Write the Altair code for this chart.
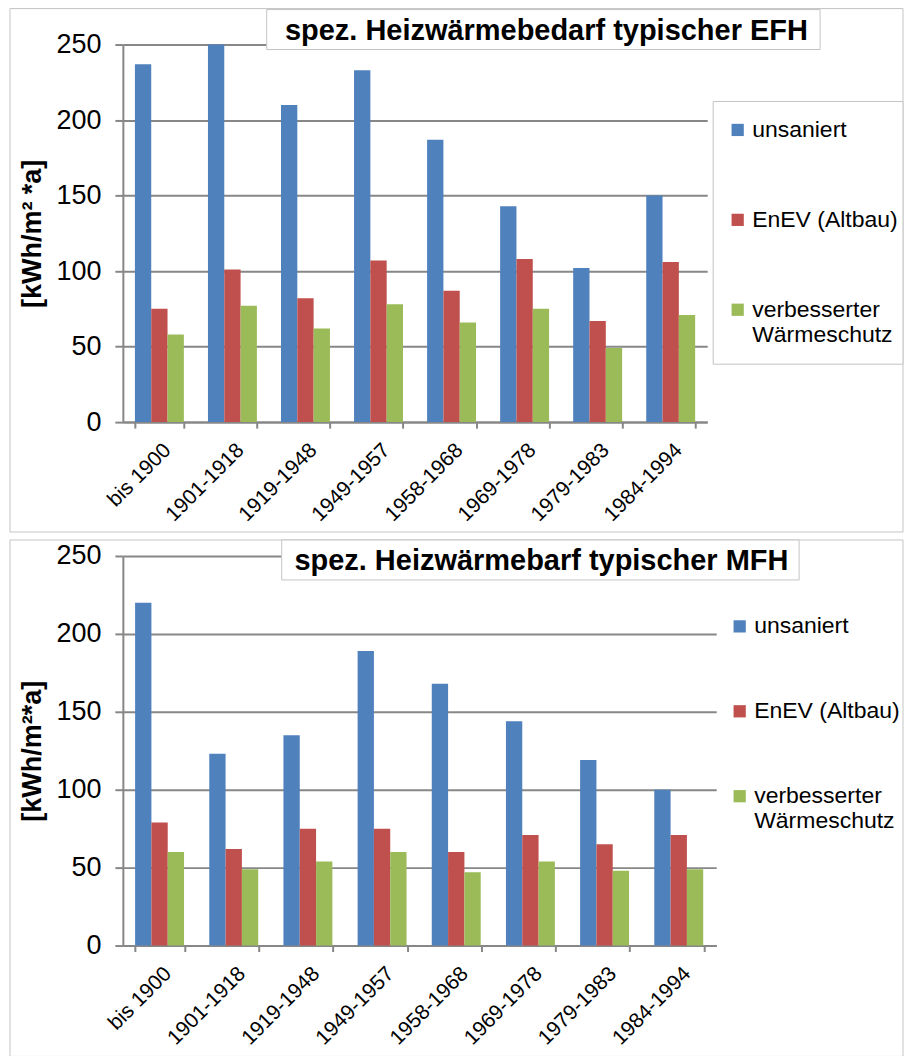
import altair as alt
import pandas as pd

CATEGORIES = ["bis 1900", "1901-1918", "1919-1948", "1949-1957",
              "1958-1968", "1969-1978", "1979-1983", "1984-1994"]
SERIES = ["unsaniert", "EnEV (Altbau)", "verbesserter Wärmeschutz"]
COLORS = ["#4F81BD", "#C0504D", "#9BBB59"]

EFH_UNSANIERT = [237, 250, 210, 233, 187, 143, 102, 150]
EFH_ENEV = [75, 101, 82, 107, 87, 108, 67, 106]
EFH_VERBESSERT = [58, 77, 62, 78, 66, 75, 49, 71]

MFH_UNSANIERT = [220, 123, 135, 189, 168, 144, 119, 100]
MFH_ENEV = [79, 62, 75, 75, 60, 71, 65, 71]
MFH_VERBESSERT = [60, 49, 54, 60, 47, 54, 48, 49]

Y_TICKS = [0, 50, 100, 150, 200, 250]
TITLE_EFH = "spez. Heizwärmebedarf typischer EFH"
TITLE_MFH = "spez. Heizwärmebarf typischer MFH"
YTITLE_EFH = "[kWh/m² *a]"
YTITLE_MFH = "[kWh/m²*a]"

FONT = "Liberation Sans"
GRID = "#878787"
BORDER = "#C4C4C4"


def long_df(series_values):
    rows = []
    for s, vals in zip(SERIES, series_values):
        for c, v in zip(CATEGORIES, vals):
            rows.append({"Baujahr": c, "Serie": s, "Wert": v})
    return pd.DataFrame(rows)


def one():
    return pd.DataFrame({"k": [0]})


def panel(df, title, ytitle, width, height, border, tbox, ttext, lbox, legend_xy, row_pad):
    bars = alt.Chart(df).mark_bar().encode(
        x=alt.X("Baujahr:N", sort=CATEGORIES,
                scale=alt.Scale(paddingInner=0.33, paddingOuter=0.165),
                axis=alt.Axis(title=None, labelAngle=-45, labelFontSize=21, labelFont=FONT,
                              labelColor="#000000", labelPadding=11, tickBand="extent",
                              ticks=True, tickSize=6, tickColor=GRID, tickWidth=2,
                              domainColor=GRID, domainWidth=2, grid=False)),
        xOffset=alt.XOffset("Serie:N", sort=SERIES,
                            scale=alt.Scale(paddingInner=0, paddingOuter=0)),
        y=alt.Y("Wert:Q", scale=alt.Scale(domain=[0, 250], nice=False),
                axis=alt.Axis(values=Y_TICKS, title=ytitle, grid=True, gridColor=GRID,
                              gridWidth=2, labelFontSize=27, labelFont=FONT,
                              labelColor="#000000", labelPadding=14, tickSize=8,
                              tickColor=GRID, tickWidth=2, domainColor=GRID,
                              domainWidth=2, titleFont=FONT, titleFontSize=27,
                              titleFontWeight="bold", titleColor="#000000",
                              titlePadding=9)),
        color=alt.Color("Serie:N", sort=SERIES,
                        scale=alt.Scale(domain=SERIES, range=COLORS),
                        legend=alt.Legend(title=None, orient="none",
                                          legendX=legend_xy[0], legendY=legend_xy[1],
                                          symbolType="square", symbolSize=150,
                                          symbolStrokeWidth=0, labelFont=FONT,
                                          labelFontSize=23, labelColor="#000000",
                                          labelOffset=3, rowPadding=row_pad,
                                          labelLimit=400,
                                          padding=0,
                                          labelExpr="datum.label == 'verbesserter Wärmeschutz' ? ['verbesserter', 'Wärmeschutz'] : datum.label")),
    )
    frame = alt.Chart(one()).mark_rect(fillOpacity=0, stroke=BORDER, strokeWidth=1).encode(
        x=alt.value(border[0]), x2=alt.value(border[1]),
        y=alt.value(border[2]), y2=alt.value(border[3]))
    layers = [frame, bars]
    if lbox is not None:
        layers.append(alt.Chart(one()).mark_rect(fill="white", stroke=BORDER, strokeWidth=1).encode(
            x=alt.value(lbox[0]), x2=alt.value(lbox[1]),
            y=alt.value(lbox[2]), y2=alt.value(lbox[3])))
    layers.append(alt.Chart(one()).mark_rect(fill="white", stroke=BORDER, strokeWidth=1).encode(
        x=alt.value(tbox[0]), x2=alt.value(tbox[1]),
        y=alt.value(tbox[2]), y2=alt.value(tbox[3])))
    layers.append(alt.Chart(one()).mark_text(font=FONT, fontSize=29, fontWeight="bold",
                                             color="#000000", align="center",
                                             baseline="middle").encode(
        x=alt.value(ttext[0]), y=alt.value(ttext[1]), text=alt.value(title)))
    return alt.layer(*layers).properties(width=width, height=height)


top = panel(long_df([EFH_UNSANIERT, EFH_ENEV, EFH_VERBESSERT]), TITLE_EFH, YTITLE_EFH,
            585, 378,
            border=(-113, 781, -36, 488),
            tbox=(144, 698, -35, 5), ttext=(424, -14),
            lbox=(591, 781, 57, 320),
            legend_xy=(604, 74), row_pad=66)

bottom = panel(long_df([MFH_UNSANIERT, MFH_ENEV, MFH_VERBESSERT]), TITLE_MFH, YTITLE_MFH,
               594, 390,
               border=(-113, 781, -16, 501),
               tbox=(159, 677, -16, 24), ttext=(419, 5),
               lbox=None,
               legend_xy=(606, 59), row_pad=61)

chart = alt.vconcat(top, bottom, spacing=6).resolve_legend(color="independent").properties(
    padding={"left": 9, "top": 7, "right": 0, "bottom": 0},
    background="white",
).configure_view(strokeWidth=0)

chart.save("out.html", embed_options={"renderer": "svg", "actions": False})
